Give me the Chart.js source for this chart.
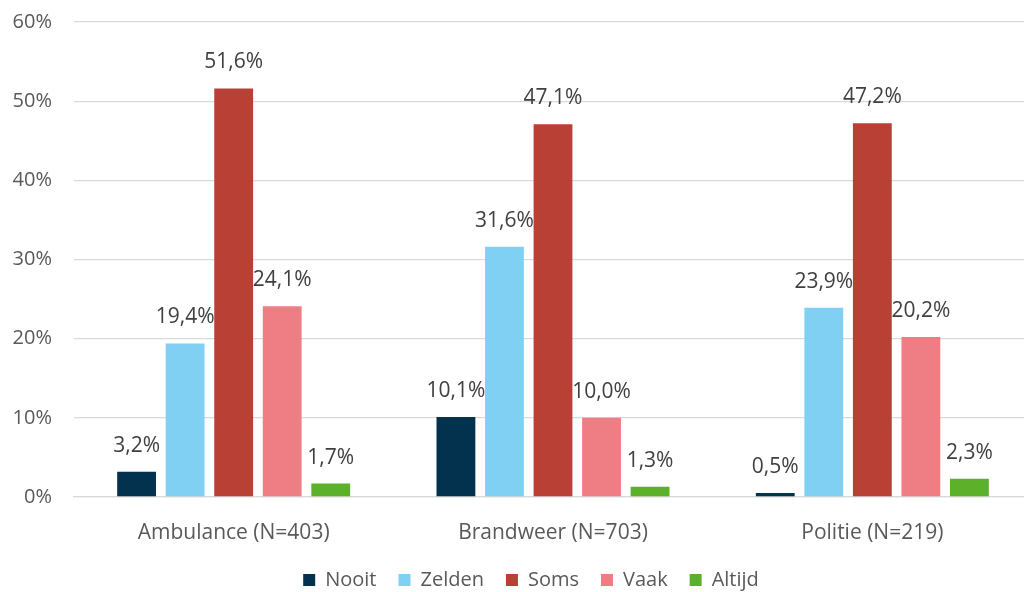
<!DOCTYPE html>
<html><head><meta charset="utf-8">
<script src="https://cdn.jsdelivr.net/npm/chart.js@4"></script>
<style>html,body{margin:0;padding:0;background:#fff;overflow:hidden;width:1024px;height:592px}#wrap{width:1032px;height:604px;margin-top:-12px}</style>
</head><body><div id="wrap"><canvas id="c"></canvas></div>
<script>
const categories = ["Ambulance (N=403)", "Brandweer (N=703)", "Politie (N=219)"];
const seriesNames = ["Nooit", "Zelden", "Soms", "Vaak", "Altijd"];
const nooit = [3.2, 10.1, 0.5];
const zelden = [19.4, 31.6, 23.9];
const soms = [51.6, 47.1, 47.2];
const vaak = [24.1, 10.0, 20.2];
const altijd = [1.7, 1.3, 2.3];
const tickValues = [0, 10, 20, 30, 40, 50, 60];
const colors = ["#03324f", "#80d0f3", "#b94034", "#ee7e83", "#5db12a"];
const allSeries = [nooit, zelden, soms, vaak, altijd];

const FONT = "'Open Sans', sans-serif";
const labelPlugin = {
  id: 'barLabels',
  afterLayout(chart) {
    if (chart.legend) { chart.legend.left += 30; }
  },
  afterDatasetsDraw(chart) {
    const ctx = chart.ctx;
    ctx.save();
    ctx.font = "21px " + FONT;
    ctx.fillStyle = "#404040";
    ctx.textAlign = "center";
    ctx.textBaseline = "middle";
    chart.data.datasets.forEach((ds, i) => {
      const meta = chart.getDatasetMeta(i);
      meta.data.forEach((bar, j) => {
        const v = ds.data[j];
        ctx.fillText(v.toFixed(1).replace('.', ',') + '%', bar.x, bar.y - 26);
      });
    });
    ctx.restore();
  }
};

new Chart(document.getElementById('c'), {
  type: 'bar',
  data: {
    labels: categories,
    datasets: seriesNames.map((n, i) => ({
      label: n, data: allSeries[i], backgroundColor: colors[i],
      barPercentage: 0.8, categoryPercentage: 0.76
    }))
  },
  options: {
    responsive: true, maintainAspectRatio: false, animation: false,
    layout: { padding: { top: 0, right: 0, left: 0, bottom: -8 } },
    plugins: {
      legend: {
        position: 'bottom',
        labels: { boxWidth: 12, boxHeight: 12, color: '#595959', font: { family: FONT, size: 20 }, padding: 22 }
      },
      tooltip: { enabled: false }
    },
    scales: {
      x: {
        grid: { display: false },
        border: { color: '#d9d9d9', width: 1.3 },
        afterFit(s) { s.height = 51; },
        ticks: { color: '#595959', font: { family: FONT, size: 21 }, padding: 15 }
      },
      y: {
        min: 0, max: 60,
        afterFit(s) { s.width = 74; },
        afterBuildTicks(s) { s.ticks = tickValues.map(v => ({ value: v })); },
        grid: { color: '#d9d9d9', lineWidth: 1.3, drawTicks: false },
        border: { display: false },
        ticks: { color: '#595959', font: { family: FONT, size: 20 }, padding: 22, callback: v => v + '%' }
      }
    }
  },
  plugins: [labelPlugin]
});
</script></body></html>
